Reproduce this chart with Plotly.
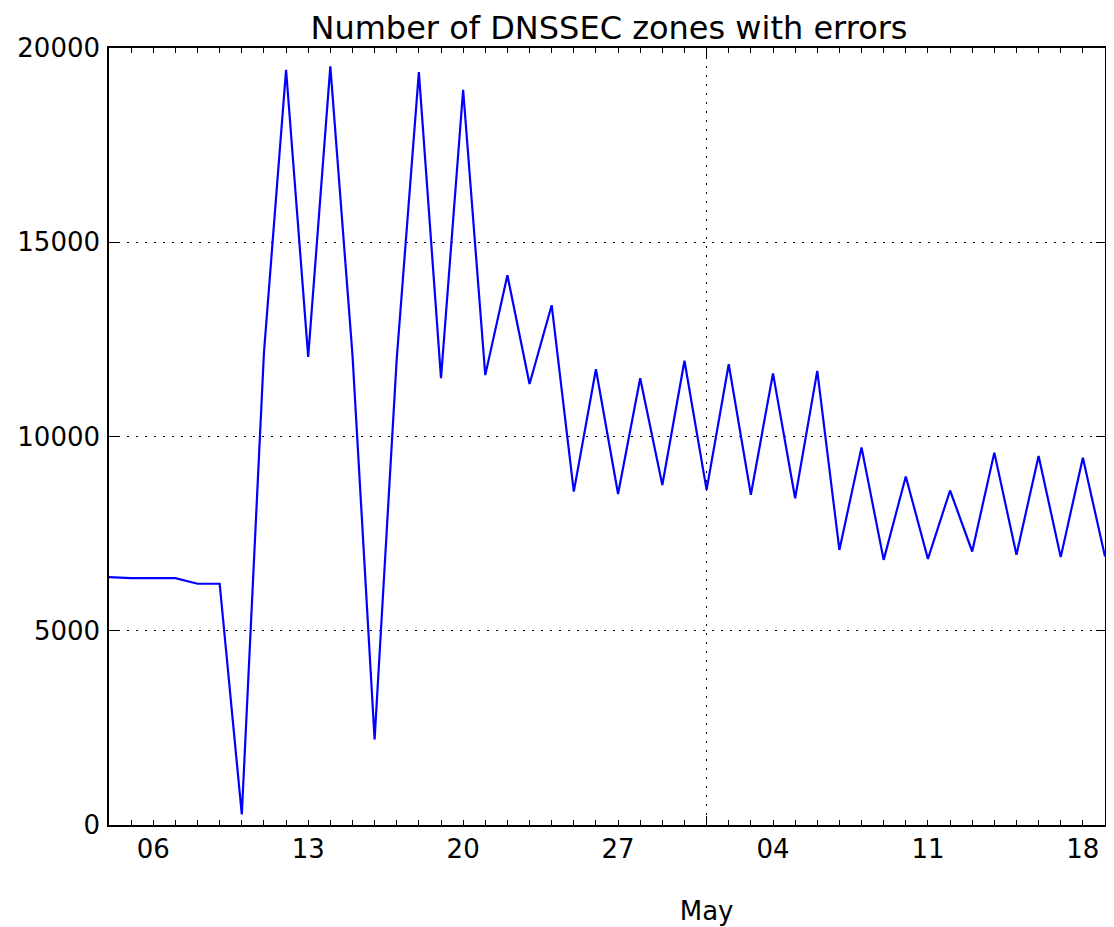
import pandas as pd
import plotly.graph_objects as go

# ---- data ----
start_date = "2015-04-04"
end_date = "2015-05-19"
dates = pd.date_range(start_date, end_date, freq="D")

error_zones = [
    6380, 6355, 6355, 6355, 6210, 6210, 270, 12150, 19440, 12050,
    19525, 12100, 2200, 12000, 19380, 11500, 18925, 11580, 14150, 11350,
    13380, 8580, 11730, 8520, 11500, 8750, 11950, 8625, 11860, 8500,
    11625, 8410, 11690, 7080, 9720, 6825, 8970, 6850, 8610, 7040,
    9585, 6955, 9500, 6895, 9455, 6910,
]

week_ticks = ["2015-04-06", "2015-04-13", "2015-04-20", "2015-04-27",
              "2015-05-04", "2015-05-11", "2015-05-18"]
week_labels = ["06", "13", "20", "27", "04", "11", "18"]
month_ticks = ["2015-05-01"]
month_labels = ["May"]
y_ticks = [0, 5000, 10000, 15000, 20000]

title_text = "Number of DNSSEC zones with errors"

FONT = "DejaVu Sans"
GRIDDASH = "2px,7px"

fig = go.Figure()
fig.add_trace(go.Scatter(
    x=dates, y=error_zones, mode="lines",
    line=dict(color="#0000ff", width=2.2),
    showlegend=False, hoverinfo="skip",
))
# invisible trace on the secondary x axis so it is rendered
fig.add_trace(go.Scatter(
    x=[dates[0]], y=[None], xaxis="x2", mode="lines",
    showlegend=False, hoverinfo="skip",
))

xrange = [start_date, end_date]

W, H = 1106, 919

fig.update_layout(
    width=W, height=H,
    margin=dict(l=101, r=9, t=40, b=102, autoexpand=False),
    paper_bgcolor="white", plot_bgcolor="white",
    font=dict(family=FONT, size=26, color="black"),
    title=dict(
        text=title_text, x=(609 - 8) / W, xanchor="center",
        y=1 - 20 / H, yanchor="middle", yref="container",
        font=dict(family=FONT, size=32, color="black"),
    ),
    xaxis=dict(
        type="date", range=xrange, automargin=False,
        tickmode="array", tickvals=week_ticks, ticktext=week_labels,
        ticks="inside", ticklen=5, tickwidth=1, tickcolor="black",
        showline=True, linecolor="black", linewidth=1.5, mirror="ticks",
        showgrid=False, zeroline=False,
        tickfont=dict(family=FONT, size=26, color="black"),
        ticklabelstandoff=0,
        minor=dict(dtick=86400000, tick0=start_date, ticks="inside",
                   ticklen=5, tickwidth=1, tickcolor="black", showgrid=False),
    ),
    xaxis2=dict(
        type="date", range=xrange, overlaying="x", anchor="y", side="bottom",
        automargin=False,
        tickmode="array", tickvals=month_ticks, ticktext=month_labels,
        ticks="inside", ticklen=9, tickwidth=1, tickcolor="black",
        mirror="ticks", showline=False,
        showgrid=True, gridcolor="black", gridwidth=1, griddash=GRIDDASH,
        zeroline=False,
        tickfont=dict(family=FONT, size=26, color="black"),
        ticklabelstandoff=68,
    ),
    yaxis=dict(
        range=[0, 20000], tickmode="array", tickvals=y_ticks, automargin=False,
        ticktext=[str(v) for v in y_ticks],
        ticks="inside", ticklen=9, tickwidth=1, tickcolor="black",
        showline=True, linecolor="black", linewidth=1.5, mirror="ticks",
        showgrid=True, gridcolor="black", gridwidth=1, griddash=GRIDDASH,
        zeroline=False,
        tickfont=dict(family=FONT, size=26, color="black"),
        ticklabelstandoff=2,
    ),
)

fig.write_html("out.html")
